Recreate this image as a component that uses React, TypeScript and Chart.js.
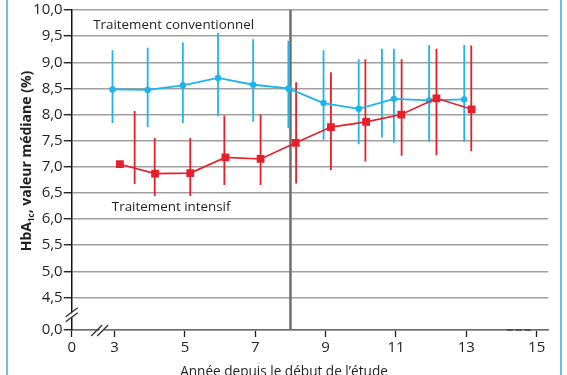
import React, { useEffect, useRef } from "react";
import { Chart, registerables } from "chart.js";

Chart.register(...registerables);

// ---- data ----
const years = [3, 4, 5, 6, 7, 8, 9, 10, 11, 12, 13];
const convMedian = [8.48, 8.47, 8.56, 8.7, 8.57, 8.5, 8.22, 8.11, 8.3, 8.27, 8.29];
const intMedian = [7.05, 6.87, 6.88, 7.18, 7.15, 7.46, 7.76, 7.86, 8.0, 8.31, 8.1];
const convOffset = -0.06;
const intOffset = 0.15;

const convErrX = [2.94, 3.94, 4.94, 5.94, 6.94, 7.94, 8.94, 9.94, 10.6, 10.94, 11.94, 12.94];
const convErrLow = [7.84, 7.76, 7.84, 7.97, 7.86, 7.74, 7.52, 7.43, 7.56, 7.46, 7.48, 7.48];
const convErrHigh = [9.23, 9.28, 9.38, 9.56, 9.44, 9.41, 9.23, 9.06, 9.26, 9.26, 9.33, 9.33];

const intErrX = [3.57, 4.14, 5.15, 6.12, 7.15, 8.16, 9.15, 10.13, 11.16, 12.15, 13.14];
const intErrLow = [6.67, 6.44, 6.44, 6.65, 6.65, 6.68, 6.94, 7.1, 7.21, 7.22, 7.3];
const intErrHigh = [8.07, 7.55, 7.55, 7.98, 8.0, 8.62, 8.81, 9.06, 9.06, 9.26, 9.32];

// broken axes: first tick stands for 0
const xMin = 1.78;
const xMax = 15.33;
const xTickValues = [1.78, 3, 5, 7, 9, 11, 13, 15];
const xTickLabels = ["0", "3", "5", "7", "9", "11", "13", "15"];
const yMin = 3.878;
const yMax = 10;
const yTickValues = [3.878, 4.5, 5, 5.5, 6, 6.5, 7, 7.5, 8, 8.5, 9, 9.5, 10];
const yTickLabels = ["0,0", "4,5", "5,0", "5,5", "6,0", "6,5", "7,0", "7,5", "8,0", "8,5", "9,0", "9,5", "10,0"];

const separationYear = 8;
const xBreakAt = 2.56;
const yBreakAt = 4.19;

const convLabel = "Traitement conventionnel";
const convLabelPos = { x: 2.39, y: 9.64 };
const intLabel = "Traitement intensif";
const intLabelPos = { x: 2.92, y: 6.152 };
const xTitle = "Année depuis le début de l’étude";
const yTitleParts = ["HbA", "1c", ", valeur médiane (%)"];

const BLUE = "#1db5ea";
const RED = "#e6202a";
const FONT = "'Open Sans', sans-serif";
const TEXT = "#231f20";

const errData = (xs: number[], lo: number[], hi: number[]) =>
  xs.flatMap((x, i) => [
    { x, y: lo[i] },
    { x, y: hi[i] },
    { x, y: null as any },
  ]);

const decorPlugin = {
  id: "decor",
  beforeDraw(chart: any) {
    const ctx = chart.ctx;
    ctx.save();
    ctx.strokeStyle = "#4aa8dc";
    ctx.lineWidth = 1.5;
    ctx.beginPath();
    ctx.moveTo(7, 0);
    ctx.lineTo(7, chart.height);
    ctx.moveTo(561, 0);
    ctx.lineTo(561, chart.height);
    ctx.stroke();
    ctx.restore();
  },
  beforeDatasetsDraw(chart: any) {
    const { ctx, chartArea, scales } = chart;
    const x = scales.x.getPixelForValue(separationYear);
    ctx.save();
    ctx.strokeStyle = "#6e6e6e";
    ctx.lineWidth = 2.5;
    ctx.beginPath();
    ctx.moveTo(x, chartArea.top);
    ctx.lineTo(x, chartArea.bottom);
    ctx.stroke();
    ctx.restore();
  },
  afterDraw(chart: any) {
    const { ctx, chartArea, scales } = chart;
    const xs = scales.x;
    const ys = scales.y;
    ctx.save();
    // dashed end of x axis
    ctx.strokeStyle = "#444";
    ctx.lineWidth = 1.5;
    ctx.setLineDash([6, 3]);
    ctx.beginPath();
    ctx.moveTo(xs.getPixelForValue(14.15), chartArea.bottom);
    ctx.lineTo(xs.getPixelForValue(14.9), chartArea.bottom);
    ctx.stroke();
    ctx.setLineDash([]);

    // y axis break
    const by = ys.getPixelForValue(yBreakAt);
    const bx = chartArea.left;
    ctx.fillStyle = "#fff";
    ctx.beginPath();
    ctx.moveTo(bx - 6, by + 4);
    ctx.lineTo(bx + 6, by - 5);
    ctx.lineTo(bx + 6, by - 1);
    ctx.lineTo(bx - 6, by + 8);
    ctx.closePath();
    ctx.fill();
    ctx.strokeStyle = "#333";
    ctx.lineWidth = 1.3;
    ctx.beginPath();
    ctx.moveTo(bx - 6, by + 3);
    ctx.lineTo(bx + 6, by - 6);
    ctx.moveTo(bx - 6, by + 8);
    ctx.lineTo(bx + 6, by - 1);
    ctx.stroke();

    // x axis break
    const xb = xs.getPixelForValue(xBreakAt);
    const yb = chartArea.bottom;
    ctx.fillStyle = "#fff";
    ctx.beginPath();
    ctx.moveTo(xb - 5, yb + 6);
    ctx.lineTo(xb + 5, yb - 5);
    ctx.lineTo(xb + 9, yb - 5);
    ctx.lineTo(xb - 1, yb + 6);
    ctx.closePath();
    ctx.fill();
    ctx.beginPath();
    ctx.moveTo(xb - 8, yb + 6);
    ctx.lineTo(xb + 3, yb - 5);
    ctx.moveTo(xb - 2, yb + 6);
    ctx.lineTo(xb + 9, yb - 5);
    ctx.stroke();

    // annotations
    ctx.fillStyle = TEXT;
    ctx.font = `13.4px ${FONT}`;
    ctx.textBaseline = "alphabetic";
    ctx.textAlign = "left";
    ctx.fillText(convLabel, xs.getPixelForValue(convLabelPos.x), ys.getPixelForValue(convLabelPos.y));
    ctx.fillText(intLabel, xs.getPixelForValue(intLabelPos.x), ys.getPixelForValue(intLabelPos.y));

    // x title
    ctx.textAlign = "center";
    ctx.font = `13.6px ${FONT}`;
    ctx.fillText(xTitle, 284, 376);

    // y title (rotated, with subscript)
    ctx.translate(26, 161);
    ctx.rotate(-Math.PI / 2);
    const big = `bold 14px ${FONT}`;
    const small = `bold 8px ${FONT}`;
    ctx.font = big;
    const w0 = ctx.measureText(yTitleParts[0]).width;
    const w2 = ctx.measureText(yTitleParts[2]).width;
    ctx.font = small;
    const w1 = ctx.measureText(yTitleParts[1]).width;
    let x0 = -(w0 + w1 + w2) / 2;
    ctx.textAlign = "left";
    ctx.font = big;
    ctx.fillText(yTitleParts[0], x0, 5);
    x0 += w0;
    ctx.font = small;
    ctx.fillText(yTitleParts[1], x0, 8);
    x0 += w1;
    ctx.font = big;
    ctx.fillText(yTitleParts[2], x0, 5);
    ctx.restore();
  },
};

export default function App() {
  const ref = useRef<HTMLCanvasElement | null>(null);
  useEffect(() => {
    if (!ref.current) return;
    const chart = new Chart(ref.current, {
      type: "line",
      data: {
        datasets: [
          {
            label: "intensif",
            data: years.map((y, i) => ({ x: y + intOffset, y: intMedian[i] })),
            borderColor: RED,
            backgroundColor: RED,
            borderWidth: 1.6,
            pointStyle: "rect",
            pointRadius: 5.5,
            pointBorderWidth: 0,
          },
          {
            label: "conventionnel",
            data: years.map((y, i) => ({ x: y + convOffset, y: convMedian[i] })),
            borderColor: BLUE,
            backgroundColor: BLUE,
            borderWidth: 1.8,
            pointStyle: "circle",
            pointRadius: 3.2,
            pointBorderWidth: 0,
          },
          {
            label: "err intensif",
            data: errData(intErrX, intErrLow, intErrHigh),
            borderColor: RED,
            borderWidth: 1.8,
            pointRadius: 0,
            spanGaps: false,
          },
          {
            label: "err conventionnel",
            data: errData(convErrX, convErrLow, convErrHigh),
            borderColor: BLUE,
            borderWidth: 1.8,
            pointRadius: 0,
            spanGaps: false,
          },
        ] as any,
      },
      options: {
        animation: false,
        responsive: false,
        events: [],
        layout: { padding: { top: 8, right: 18.7, bottom: 0, left: 0 } },
        plugins: { legend: { display: false }, tooltip: { enabled: false } },
        scales: {
          x: {
            type: "linear",
            min: xMin,
            max: xMax,
            offset: false,
            afterBuildTicks: (s: any) => {
              s.ticks = xTickValues.map((v) => ({ value: v }));
            },
            afterFit: (s: any) => {
              s.height = 45;
            },
            ticks: {
              autoSkip: false,
              maxRotation: 0,
              padding: 2,
              color: TEXT,
              font: { family: FONT, size: 15 },
              callback: (v: any) => {
                const i = xTickValues.indexOf(Number(v));
                return i >= 0 ? xTickLabels[i] : "";
              },
            },
            grid: {
              drawOnChartArea: false,
              drawTicks: true,
              tickLength: 7,
              tickColor: "#222",
              tickWidth: 1.3,
            },
            border: { color: "#6a6a6a", width: 1.5 },
          },
          y: {
            type: "linear",
            min: yMin,
            max: yMax,
            afterBuildTicks: (s: any) => {
              s.ticks = yTickValues.map((v) => ({ value: v }));
            },
            afterFit: (s: any) => {
              s.width = 71.7;
            },
            ticks: {
              autoSkip: false,
              padding: 1,
              color: TEXT,
              font: { family: FONT, size: 15 },
              callback: (v: any) => {
                const i = yTickValues.indexOf(Number(v));
                return i >= 0 ? yTickLabels[i] : "";
              },
            },
            grid: {
              color: "#a0a0a0",
              lineWidth: 1.5,
              tickColor: "#111",
              tickLength: 8,
              tickWidth: 1.3,
            },
            border: { color: "#111", width: 1.5 },
          },
        },
      } as any,
      plugins: [decorPlugin],
    });
    return () => chart.destroy();
  }, []);
  return (
    <div style={{ position: "absolute", left: 0, top: 0, width: 567, height: 375, background: "#fff" }}>
      <canvas ref={ref} width={567} height={375} style={{ display: "block", width: 567, height: 375 }} />
    </div>
  );
}
